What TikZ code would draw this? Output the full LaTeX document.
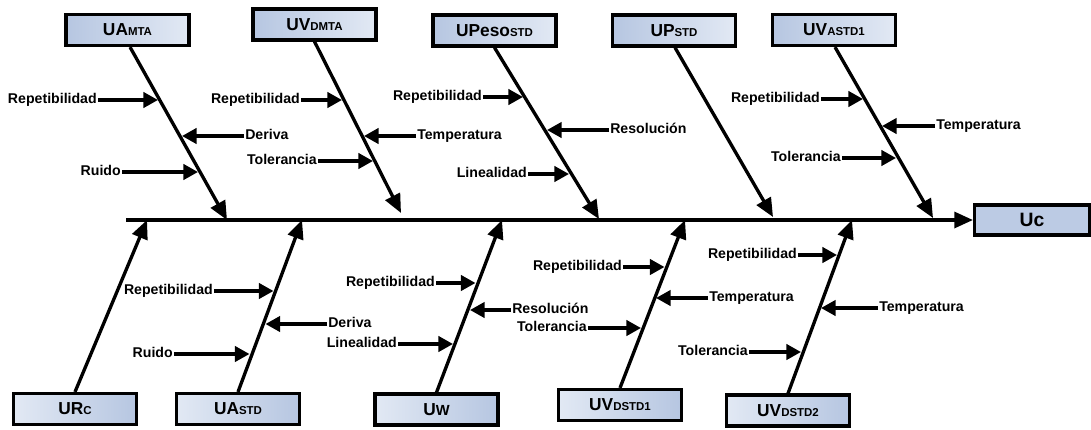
\documentclass[tikz,border=0pt]{standalone}
\usepackage{fontspec}
\setmainfont{Liberation Sans}
\usetikzlibrary{arrows.meta,shadows}
\definecolor{boxdark}{HTML}{B6C6E1}
\definecolor{boxlight}{HTML}{E2E9F4}
\definecolor{boxmid}{HTML}{BCCBE4}
\newcommand{\bxl}[2]{{\fontsize{13}{15}\selectfont #1}{\fontsize{8.6}{10}\selectfont #2}}
\tikzset{
  box/.style={draw, line width=2.6pt, minimum width=92.5pt, minimum height=23pt, inner sep=1pt,
    font=\bfseries, drop shadow={opacity=0.25, shadow xshift=1pt, shadow yshift=-1pt}},
  topbox/.style={box, left color=boxdark, right color=boxlight},
  botbox/.style={box, left color=boxlight, right color=boxdark},
  branch/.style={line width=2.5pt, -{Triangle[length=14pt,width=12pt]}},
  subarr/.style={line width=2.5pt, -{Triangle[length=11pt,width=11.5pt]}},
  lab/.style={font=\bfseries\fontsize{10.6}{12}\selectfont, inner sep=0.75pt, text height=7.5pt, text depth=2.2pt},
}
\begin{document}
\begin{tikzpicture}[x=0.75pt,y=-0.75pt]
\useasboundingbox (0,0) rectangle (1091,429);
% boxes
\node[topbox] (UAMTA) at (127.5,30) {\bxl{UA}{MTA}};
\node[topbox] (UVDMTA) at (314.5,24.5) {\bxl{UV}{DMTA}};
\node[topbox] (UPESO) at (494.5,30.5) {\bxl{UPeso}{STD}};
\node[topbox] (UPSTD) at (674,30.5) {\bxl{UP}{STD}};
\node[topbox] (UVASTD) at (834,30) {\bxl{UV}{ASTD1}};
\node[botbox] (URC) at (75,409) {\bxl{UR}{C}};
\node[botbox] (UASTD) at (238,409) {\bxl{UA}{STD}};
\node[botbox] (UW) at (436.5,409.5) {\bxl{U}{\fontsize{11}{12}\selectfont W}};
\node[botbox] (UVD1) at (620,405) {\bxl{UV}{DSTD1}};
\node[botbox] (UVD2) at (788,410.5) {\bxl{UV}{DSTD2}};
\node[box, fill=boxmid, minimum width=86pt, minimum height=22.5pt] (UC) at (1032,220) {\fontsize{14.5}{16}\selectfont Uc};
% spine
\coordinate (S0) at (126,220);
\draw[branch] (S0) -- (UC.west);
% branch tips
\coordinate (t1) at (227,220);
\coordinate (t2) at (401,213);
\coordinate (t3) at (599,219);
\coordinate (t4) at (773,217);
\coordinate (t5) at (933,218);
\coordinate (b1) at (147,220);
\coordinate (b2) at (302,220);
\coordinate (b3) at (502,220);
\coordinate (b4) at (685,220);
\coordinate (b5) at (852,220);
\draw[branch] ([xshift=1.9pt]UAMTA.south) -- (t1);
\draw[branch] (UVDMTA.south) -- (t2);
\draw[branch] (UPESO.south) -- (t3);
\draw[branch] ([xshift=0.75pt]UPSTD.south) -- (t4);
\draw[branch] ([xshift=0.75pt]UVASTD.south) -- (t5);
\draw[branch] (URC.north) -- (b1);
\draw[branch] (UASTD.north) -- (b2);
\draw[branch] (UW.north) -- (b3);
\draw[branch] (UVD1.north) -- (b4);
\draw[branch] (UVD2.north) -- (b5);
% cause labels: top
\node[lab, anchor=east] (l1) at (98,100) {Repetibilidad};
\coordinate (p1) at (158,100); \draw[subarr] (l1.east) -- (p1);
\node[lab, anchor=west] (l2) at (244,136) {Deriva};
\coordinate (p2) at (182,136); \draw[subarr] (l2.west) -- (p2);
\node[lab, anchor=east] (l3) at (122,172) {Ruido};
\coordinate (p3) at (198,172); \draw[subarr] (l3.east) -- (p3);
\node[lab, anchor=east] (l4) at (301,100) {Repetibilidad};
\coordinate (p4) at (342,100); \draw[subarr] (l4.east) -- (p4);
\node[lab, anchor=west] (l5) at (416,136) {Temperatura};
\coordinate (p5) at (364,136); \draw[subarr] (l5.west) -- (p5);
\node[lab, anchor=east] (l6) at (318,161) {Tolerancia};
\coordinate (p6) at (373,161); \draw[subarr] (l6.east) -- (p6);
\node[lab, anchor=east] (l7) at (483,97) {Repetibilidad};
\coordinate (p7) at (523,97); \draw[subarr] (l7.east) -- (p7);
\node[lab, anchor=west] (l8) at (609,130) {Resolución};
\coordinate (p8) at (547,130); \draw[subarr] (l8.west) -- (p8);
\node[lab, anchor=east] (l9) at (528,174) {Linealidad};
\coordinate (p9) at (569,174); \draw[subarr] (l9.east) -- (p9);
\node[lab, anchor=east] (l10) at (821,99) {Repetibilidad};
\coordinate (p10) at (863,99); \draw[subarr] (l10.east) -- (p10);
\node[lab, anchor=west] (l11) at (935,126) {Temperatura};
\coordinate (p11) at (882,126); \draw[subarr] (l11.west) -- (p11);
\node[lab, anchor=east] (l12) at (842,158) {Tolerancia};
\coordinate (p12) at (896,158); \draw[subarr] (l12.east) -- (p12);
% cause labels: bottom
\node[lab, anchor=east] (l13) at (214,291) {Repetibilidad};
\coordinate (p13) at (273.5,291); \draw[subarr] (l13.east) -- (p13);
\node[lab, anchor=west] (l14) at (327,324) {Deriva};
\coordinate (p14) at (265.5,324); \draw[subarr] (l14.west) -- (p14);
\node[lab, anchor=east] (l15) at (174,354) {Ruido};
\coordinate (p15) at (249.5,354); \draw[subarr] (l15.east) -- (p15);
\node[lab, anchor=east] (l16) at (436,283) {Repetibilidad};
\coordinate (p16) at (475.5,283); \draw[subarr] (l16.east) -- (p16);
\node[lab, anchor=west] (l17) at (511,310) {Resolución};
\coordinate (p17) at (470,310); \draw[subarr] (l17.west) -- (p17);
\node[lab, anchor=east] (l18) at (398,344) {Linealidad};
\coordinate (p18) at (453,344); \draw[subarr] (l18.east) -- (p18);
\node[lab, anchor=east] (l19) at (623,267) {Repetibilidad};
\coordinate (p19) at (664.5,267); \draw[subarr] (l19.east) -- (p19);
\node[lab, anchor=west] (l20) at (708,298) {Temperatura};
\coordinate (p20) at (656,298); \draw[subarr] (l20.west) -- (p20);
\node[lab, anchor=east] (l21) at (588,328) {Tolerancia};
\coordinate (p21) at (641,328); \draw[subarr] (l21.east) -- (p21);
\node[lab, anchor=east] (l22) at (798,255) {Repetibilidad};
\coordinate (p22) at (837,255); \draw[subarr] (l22.east) -- (p22);
\node[lab, anchor=west] (l23) at (878,308) {Temperatura};
\coordinate (p23) at (821,308); \draw[subarr] (l23.west) -- (p23);
\node[lab, anchor=east] (l24) at (749,352) {Tolerancia};
\coordinate (p24) at (801,352); \draw[subarr] (l24.east) -- (p24);
\end{tikzpicture}
\end{document}
